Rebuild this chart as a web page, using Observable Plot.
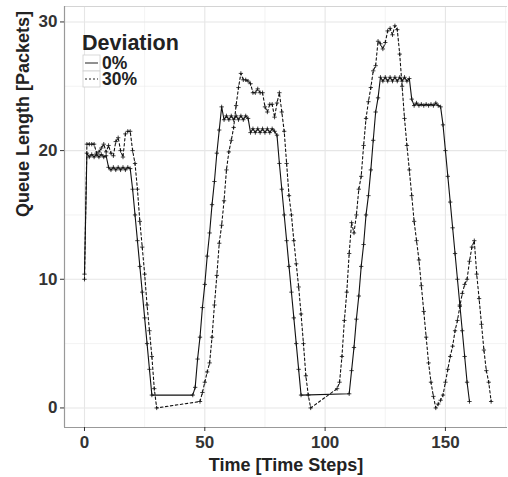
<!DOCTYPE html>
<html>
<head>
<meta charset="utf-8">
<script src="https://cdn.jsdelivr.net/npm/d3@7"></script>
<script src="https://cdn.jsdelivr.net/npm/@observablehq/plot@0.6"></script>
<style>
  html, body { margin: 0; padding: 0; background: #fff; }
  #chart svg { display: block; }
</style>
</head>
<body>
<div id="chart"></div>
<script>
// ---- Data ----
const seriesNames = ["0%", "30%"];

const solidT = [
  0,1,2,3,4,5,6,7,8,9,10,11,12,13,14,15,16,17,18,19,20,21,22,23,24,25,26,27,28,
  45,46,47,48,49,50,51,52,53,54,55,56,57,58,59,60,61,62,63,64,65,66,67,68,69,70,
  71,72,73,74,75,76,77,78,79,80,81,82,83,84,85,86,87,88,89,90,
  110,111,112,113,114,115,116,117,118,119,120,121,122,123,124,125,126,127,128,129,
  130,131,132,133,134,135,136,137,138,139,140,141,142,143,144,145,146,147,148,149,
  150,151,152,153,154,155,156,157,158,159,160
];
const solidV = [
  10.4,19.8,19.5,19.7,19.5,19.7,19.5,19.7,19.5,19.6,18.7,18.5,18.7,18.5,18.7,18.5,18.7,18.5,18.7,18.6,17.0,15.0,13.0,11.0,9.0,7.0,5.0,3.0,1.0,
  1.0,1.6,3.8,5.5,7.8,9.6,11.8,13.6,15.8,17.6,19.8,21.6,23.4,22.4,22.7,22.4,22.7,22.4,22.7,22.4,22.7,22.4,22.7,22.5,21.4,21.7,
  21.4,21.7,21.4,21.7,21.4,21.7,21.4,21.7,21.5,21.2,19.0,17.0,15.0,13.0,11.0,9.0,7.0,5.0,3.0,1.0,
  1.1,2.9,4.7,6.9,8.7,11.0,12.7,15.0,16.5,18.5,20.8,23.0,24.1,25.7,25.4,25.7,25.4,25.7,25.4,25.7,
  25.4,25.7,25.4,25.7,25.4,25.6,24.0,23.5,23.7,23.5,23.6,23.5,23.6,23.5,23.6,23.5,23.7,23.5,23.4,22.0,
  20.0,18.0,16.0,14.0,12.0,10.0,8.0,6.0,4.0,2.0,0.5
];

const dashT = [
  0,1,2,3,4,5,6,7,8,9,10,11,12,13,14,15,16,17,18,19,20,21,22,23,24,25,26,27,28,29,30,
  48,49,50,51,52,53,54,55,56,57,58,59,60,61,62,63,64,65,66,67,68,69,70,71,72,73,74,
  75,76,77,78,79,80,81,82,83,84,85,86,87,88,89,90,91,92,93,94,
  105,106,107,108,109,110,111,112,113,114,115,116,117,118,119,120,121,122,123,124,
  125,126,127,128,129,130,131,132,133,134,135,136,137,138,139,140,141,142,143,144,
  145,146,147,148,149,150,151,152,153,154,155,156,157,158,159,160,161,162,163,164,
  165,166,167,168,169
];
const dashV = [
  10.0,20.5,20.5,20.5,20.5,19.8,19.9,20.2,20.5,19.9,20.4,19.8,19.6,20.7,21.0,20.0,19.5,21.3,21.5,21.5,20.0,19.0,17.0,14.5,12.5,10.4,8.0,6.0,4.0,1.5,0.0,
  0.5,1.2,2.0,2.8,3.5,5.5,8.0,10.3,12.8,14.2,16.1,18.5,19.9,20.8,21.8,23.5,24.9,26.0,25.5,25.5,25.4,25.2,24.5,24.5,24.8,24.5,24.5,
  23.4,23.0,23.6,23.6,22.6,23.7,24.5,23.0,21.5,19.0,16.5,15.0,13.0,11.2,9.4,7.3,5.0,2.5,1.0,0.0,
  1.5,2.0,4.0,6.8,9.0,12.0,14.4,13.6,15.0,17.0,18.0,20.4,22.5,23.8,24.9,26.2,26.6,28.5,28.3,27.9,
  28.4,29.3,29.5,29.0,29.7,29.4,27.5,25.0,22.5,20.4,18.5,16.5,14.5,13.0,11.5,9.5,7.5,5.5,3.5,2.0,
  0.9,0.0,0.3,0.6,1.0,2.0,3.0,4.0,4.8,6.0,6.8,7.9,8.9,9.6,10.0,11.4,12.5,13.0,10.4,8.5,
  6.5,4.5,2.9,2.0,0.5
];

const xTicks = [0, 50, 100, 150];
const xMinor = [25, 75, 125, 175];
const yTicks = [0, 10, 20, 30];
const yMinor = [5, 15, 25];
const xTitle = "Time [Time Steps]";
const yTitle = "Queue Length [Packets]";
const legendTitle = "Deviation";

// ---- Build tables ----
const solid = solidT.map((t, i) => ({t, v: solidV[i], dev: seriesNames[0]}));
const dashed = dashT.map((t, i) => ({t, v: dashV[i], dev: seriesNames[1]}));
const all = solid.concat(dashed);

const xDomain = [-8.31, 175.8];
const yDomain = [-1.52, 31.2];
const FONT = "'Liberation Sans', Arial, Helvetica, sans-serif";

const chart = Plot.plot({
  width: 508,
  height: 477,
  marginLeft: 64,
  marginRight: 1,
  marginTop: 6,
  marginBottom: 50,
  style: {fontFamily: FONT, fontWeight: "bold", background: "#fff"},
  x: {domain: xDomain, axis: null},
  y: {domain: yDomain, axis: null},
  marks: [
    Plot.gridX(xMinor, {stroke: "#ebebeb", strokeOpacity: 1, strokeWidth: 0.6}),
    Plot.gridY(yMinor, {stroke: "#ebebeb", strokeOpacity: 1, strokeWidth: 0.6}),
    Plot.gridX(xTicks, {stroke: "#e6e6e6", strokeOpacity: 1, strokeWidth: 1.1}),
    Plot.gridY(yTicks, {stroke: "#e6e6e6", strokeOpacity: 1, strokeWidth: 1.1}),
    Plot.ruleY([yDomain[1]], {stroke: "#d4d4d4", strokeWidth: 1}),
    Plot.ruleX([xDomain[0]], {stroke: "#999", strokeWidth: 1.2}),
    Plot.ruleY([yDomain[0]], {stroke: "#999", strokeWidth: 1.2}),
    Plot.axisX(xTicks, {tickSize: 4, tickPadding: 4, fontSize: 17, fontWeight: "bold", color: "#333", label: null}),
    Plot.axisY(yTicks, {tickSize: 4, tickPadding: 3, fontSize: 17, fontWeight: "bold", color: "#333", label: null}),
    Plot.line(solid, {x: "t", y: "v", stroke: "#111", strokeWidth: 1.1}),
    Plot.line(dashed, {x: "t", y: "v", stroke: "#111", strokeWidth: 1.1, strokeDasharray: "2.5,2.5"}),
    Plot.dot(all, {x: "t", y: "v", symbol: "plus", r: 1.5, stroke: "#111", strokeWidth: 0.8}),
    Plot.text([xTitle], {frameAnchor: "bottom", dy: 43, lineAnchor: "bottom", fontSize: 18, fontWeight: "bold", fill: "#222"}),
    Plot.text([yTitle], {frameAnchor: "left", dx: -36, rotate: -90, lineAnchor: "bottom", fontSize: 18, fontWeight: "bold", fill: "#222"})
  ]
});

// ---- Legend inside the panel (top-left) ----
const svg = d3.select(chart);
const lg = svg.append("g")
  .attr("font-family", FONT).attr("font-weight", "bold").attr("fill", "#222")
  .attr("text-anchor", "start");
lg.append("text").attr("x", 82).attr("y", 50).attr("font-size", 21.5).text(legendTitle);
seriesNames.forEach((name, i) => {
  const y0 = 55 + i * 16;
  lg.append("rect").attr("x", 83).attr("y", y0).attr("width", 17).attr("height", 16)
    .attr("fill", "#fff").attr("stroke", "#cfcfcf").attr("stroke-width", 0.8);
  lg.append("line").attr("x1", 85).attr("x2", 98).attr("y1", y0 + 8).attr("y2", y0 + 8)
    .attr("stroke", "#222").attr("stroke-width", 1)
    .attr("stroke-dasharray", i === 0 ? null : "2,2");
  lg.append("text").attr("x", 102).attr("y", y0 + 13.5).attr("font-size", 17.5)
    .attr("text-anchor", "start").text(name);
});

document.getElementById("chart").appendChild(chart);
</script>
</body>
</html>
